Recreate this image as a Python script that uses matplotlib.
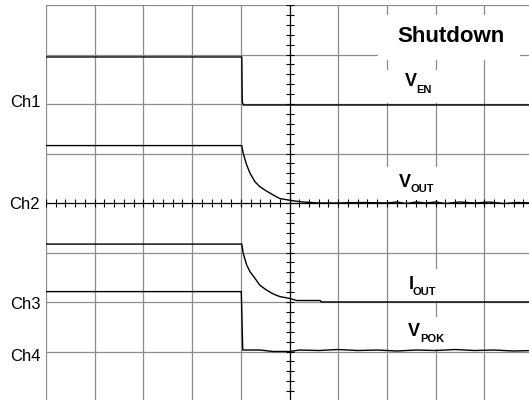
import numpy as np
import matplotlib.pyplot as plt
from matplotlib.patches import Rectangle

plt.rcParams["font.family"] = ["Liberation Sans", "DejaVu Sans"]

# scope traces, time and level in screen divisions (10 x 8 graticule)
ven_t = [0.0, 4.02, 4.03, 4.05, 10.0]
ven_v = [6.95, 6.95, 6.05, 5.98, 5.98]

vout_t = [0.0, 4.02, 4.05, 4.12, 4.19, 4.29, 4.39, 4.53, 4.67, 4.80, 4.98,
          5.11, 5.28, 5.6, 6.0, 6.5, 7.0, 7.2, 7.4, 7.6, 7.8, 8.0, 8.2,
          8.5, 8.8, 9.1, 9.4, 9.7, 10.0]
vout_v = [5.16, 5.16, 5.00, 4.77, 4.60, 4.43, 4.33, 4.24, 4.16, 4.09, 4.06,
          4.04, 4.02, 4.00, 4.00, 4.01, 4.00, 4.02, 3.99, 4.02, 4.00, 4.02,
          3.99, 4.02, 4.00, 4.02, 3.99, 4.01, 4.00]

iout_t = [0.0, 4.02, 4.05, 4.12, 4.19, 4.29, 4.39, 4.53, 4.67, 4.80, 5.01,
          5.15, 5.63, 5.65, 10.0]
iout_v = [3.17, 3.17, 2.98, 2.75, 2.61, 2.48, 2.34, 2.24, 2.16, 2.11, 2.07,
          2.03, 2.03, 2.00, 2.00]

vpok_t = [0.0, 4.01, 4.04, 4.4, 4.66, 5.01, 5.2, 5.6, 6.0, 6.4, 6.8, 7.2,
          7.6, 8.0, 8.4, 8.8, 9.2, 9.6, 10.0]
vpok_v = [2.21, 2.21, 1.03, 1.03, 1.00, 1.00, 1.03, 1.02, 1.04, 1.02, 1.03,
          1.01, 1.03, 1.02, 1.04, 1.02, 1.03, 1.01, 1.02]

channel_names = ["Ch1", "Ch2", "Ch3", "Ch4"]
channel_label_y = [6.03, 3.96, 1.94, 0.90]


def sig_label(ax, x, y, main, sub, sub_dx, sub_dy, size=13, sub_size=8):
    ax.text(x, y, main, fontsize=size, fontweight="bold", va="baseline")
    ax.text(x + sub_dx, y + sub_dy, sub, fontsize=sub_size, fontweight="bold",
            va="baseline")


def main():
    fig = plt.figure(figsize=(5.29, 4.0), dpi=100)
    ax = fig.add_axes([46 / 529, -1 / 400, 487 / 529, 396 / 400])
    ax.set_xlim(0, 10)
    ax.set_ylim(0, 8)
    ax.axis("off")

    grid_c = "#8c8c8c"
    for gx in range(0, 11):
        if gx != 5:
            ax.axvline(gx, color=grid_c, lw=0.9, zorder=1)
    for gy in range(0, 9):
        if gy != 4:
            ax.axhline(gy, color=grid_c, lw=0.9, zorder=1)

    # centre cross with minor ticks
    ax.axvline(5, color="black", lw=0.9, zorder=2)
    ax.axhline(4, color="black", lw=0.9, zorder=2)
    minor = np.arange(0, 10.01, 0.2)
    ax.plot(minor, np.full_like(minor, 4.0), ls="none", marker="|",
            ms=6, mew=0.8, color="black", zorder=2)
    minor_y = np.arange(0, 8.01, 0.2)
    ax.plot(np.full_like(minor_y, 5.0), minor_y, ls="none", marker="_",
            ms=6, mew=0.8, color="black", zorder=2)

    # white boxes behind the annotations
    boxes = [(6.82, 6.89, 2.91, 0.91), (6.90, 6.02, 1.29, 0.67),
             (6.90, 4.06, 1.29, 0.67), (7.06, 2.02, 1.13, 0.65),
             (7.06, 1.05, 1.24, 0.65)]
    for bx, by, bw, bh in boxes:
        ax.add_patch(Rectangle((bx, by), bw, bh, facecolor="white",
                               edgecolor="none", zorder=3))

    for t, v in [(ven_t, ven_v), (vout_t, vout_v), (iout_t, iout_v), (vpok_t, vpok_v)]:
        ax.plot(t, v, color="black", lw=1.0, zorder=4)

    for name, y in zip(channel_names, channel_label_y):
        ax.text(-0.12, y, name, fontsize=12, ha="right", va="center", clip_on=False)

    ax.text(8.31, 7.37, "Shutdown", fontsize=16, fontweight="bold",
            ha="center", va="center", zorder=5)
    sig_label(ax, 7.37, 6.36, "V", "EN", 0.23, -0.14)
    sig_label(ax, 7.25, 4.33, "V", "OUT", 0.23, -0.11)
    sig_label(ax, 7.44, 2.26, "I", "OUT", 0.09, -0.12)
    sig_label(ax, 7.44, 1.31, "V", "POK", 0.25, -0.11)

    fig.savefig("out.png", dpi=100)


if __name__ == "__main__":
    main()
